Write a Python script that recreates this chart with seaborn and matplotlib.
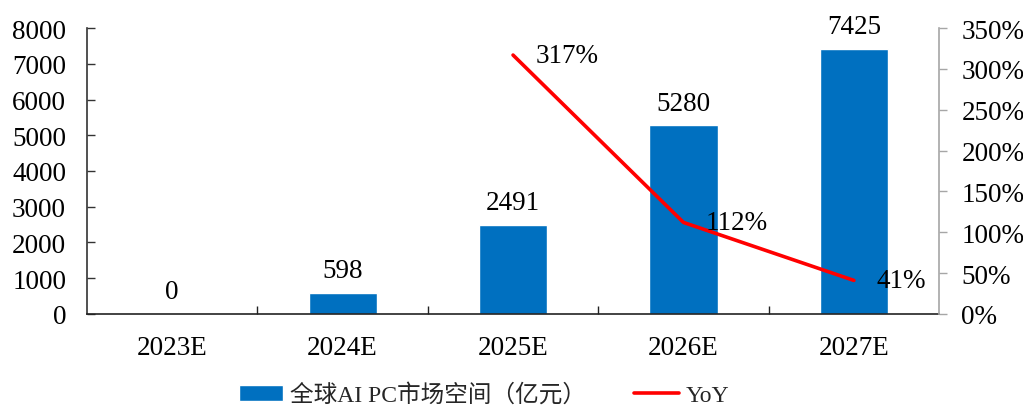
import numpy as np
import pandas as pd
import matplotlib
matplotlib.use("Agg")
import matplotlib.pyplot as plt
from matplotlib.ticker import FixedLocator, FuncFormatter
import seaborn as sns

# Data
years = ["2023E", "2024E", "2025E", "2026E", "2027E"]
market_size = [0, 598, 2491, 5280, 7425]          # 亿元
yoy_pct = [np.nan, np.nan, 317, 112, 41]           # %
bar_name = "全球AI PC市场空间（亿元）"
line_name = "YoY"

sns.set_theme(style="white")
plt.rcParams["font.family"] = ["Liberation Serif", "Noto Sans CJK SC", "DejaVu Sans"]

BLUE = "#0070C0"
RED = "#FF0000"
FS = 19.5

fig = plt.figure(figsize=(10.23, 4.10), dpi=100)
ax = fig.add_axes([0.085, 0.232, 0.833, 0.697])

df = pd.DataFrame({"year": years, "size": market_size})
sns.barplot(data=df, x="year", y="size", color=BLUE, width=0.4,
            saturation=1, ax=ax, label=bar_name)
ax.set_xlim(-0.5, 4.5)
ax.set_ylim(0, 8000)
ax.set_yticks(np.arange(0, 8001, 1000))
ax.set_xlabel("")
ax.set_ylabel("")

for cont in ax.containers:
    ax.bar_label(cont, labels=[f"{v}" for v in market_size], padding=7,
                 fontsize=FS, color="black")

# Secondary axis for growth rate
ax2 = ax.twinx()
pos = np.arange(len(years))
sns.lineplot(x=pos, y=yoy_pct, color=RED, linewidth=2.6, ax=ax2, label=line_name)
ax2.set_ylim(0, 350)
ax2.set_yticks(np.arange(0, 351, 50))
ax2.yaxis.set_major_formatter(FuncFormatter(lambda v, _: f"{v:.0f}%"))
ax2.set_xlim(-0.5, 4.5)
for x, v in zip(pos, yoy_pct):
    if not np.isnan(v):
        ax2.annotate(f"{v:.0f}%", (x, v), xytext=(16, 0), textcoords="offset points",
                     ha="left", va="center", fontsize=FS, color="black")

# Spines and ticks
ax.spines["top"].set_visible(False)
ax2.spines["top"].set_visible(False)
ax.spines["right"].set_visible(False)
ax2.spines["left"].set_visible(False)
ax2.spines["bottom"].set_visible(False)
ax.spines["left"].set_color("#333333")
ax.spines["bottom"].set_color("#222222")
ax2.spines["right"].set_color("#A6A6A6")
for s in ["left", "bottom"]:
    ax.spines[s].set_linewidth(1.2)
ax2.spines["right"].set_linewidth(1.2)

ax.tick_params(axis="y", direction="in", length=6, width=1.0, color="#333333",
               pad=15, labelsize=FS, left=True, labelcolor="black")
ax.tick_params(axis="x", which="major", length=0, pad=15, labelsize=FS, labelcolor="black")
ax.xaxis.set_minor_locator(FixedLocator([0.5, 1.5, 2.5, 3.5]))
ax.tick_params(axis="x", which="minor", direction="in", length=6, width=1.0,
               color="#222222", bottom=True)
ax2.tick_params(axis="y", direction="out", length=6, width=1.0, color="#A6A6A6",
                pad=10, labelsize=FS, right=True, labelcolor="black")
ax.grid(False)
ax2.grid(False)

# Combined legend below the chart
h1, l1 = ax.get_legend_handles_labels()
h2, l2 = ax2.get_legend_handles_labels()
if ax2.get_legend():
    ax2.get_legend().remove()
if ax.get_legend():
    ax.get_legend().remove()
fig.legend(h1 + h2, l1 + l2, loc="center", bbox_to_anchor=(0.473, 0.035),
           ncol=2, frameon=False, fontsize=17, handlelength=1.9, handleheight=0.65,
           columnspacing=2.0, handletextpad=0.3, borderpad=0.1)

fig.savefig("out.png", dpi=100)
